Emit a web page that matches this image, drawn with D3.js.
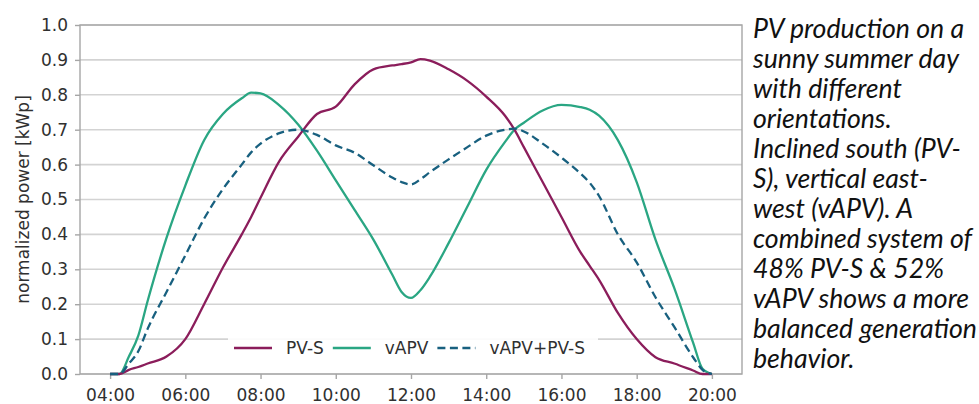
<!DOCTYPE html>
<html>
<head>
<meta charset="utf-8">
<script src="https://cdn.jsdelivr.net/npm/d3@7"></script>
<style>
  html, body { margin: 0; padding: 0; background: #ffffff; }
  svg { display: block; }
</style>
</head>
<body>
<div id="chart"></div>
<script>
// ---- data (hours of day) ----
const hours = [4.0, 4.25, 4.5, 4.75, 5.0, 5.5, 6.0, 6.5, 7.0, 7.5, 7.75, 8.0, 8.5, 9.0, 9.5, 10.0, 10.5, 11.0, 11.5, 11.75, 12.0, 12.25, 12.5, 13.0, 13.5, 14.0, 14.5, 14.75, 15.0, 15.5, 16.0, 16.5, 16.75, 17.0, 17.5, 18.0, 18.5, 19.0, 19.5, 19.75, 20.0];
const pvS = [0, 0, 0.012, 0.02, 0.03, 0.05, 0.10, 0.20, 0.305, 0.40, 0.45, 0.505, 0.61, 0.68, 0.745, 0.766, 0.83, 0.873, 0.884, 0.888, 0.893, 0.902, 0.898, 0.873, 0.84, 0.795, 0.74, 0.70, 0.65, 0.55, 0.45, 0.35, 0.31, 0.27, 0.175, 0.10, 0.048, 0.03, 0.01, 0.0, 0];
const vAPV = [0, 0, 0.05, 0.11, 0.21, 0.39, 0.54, 0.67, 0.745, 0.79, 0.806, 0.804, 0.77, 0.715, 0.64, 0.555, 0.47, 0.385, 0.285, 0.235, 0.218, 0.24, 0.278, 0.375, 0.48, 0.585, 0.665, 0.70, 0.72, 0.755, 0.771, 0.765, 0.757, 0.74, 0.67, 0.55, 0.385, 0.246, 0.09, 0.015, 0];
const combined = [0, 0, 0.03, 0.065, 0.13, 0.235, 0.34, 0.445, 0.53, 0.60, 0.635, 0.66, 0.69, 0.70, 0.685, 0.655, 0.634, 0.598, 0.563, 0.55, 0.543, 0.558, 0.578, 0.615, 0.65, 0.683, 0.70, 0.703, 0.695, 0.66, 0.62, 0.575, 0.548, 0.51, 0.40, 0.32, 0.22, 0.135, 0.048, 0.012, 0];

const seriesNames = ["PV-S", "vAPV", "vAPV+PV-S"];
const seriesColors = ["#8b1d5b", "#2aa683", "#18607f"];
const seriesDashes = [null, null, "8,4.5"];

const xTicks = [4, 6, 8, 10, 12, 14, 16, 18, 20];
const xTickLabels = ["04:00", "06:00", "08:00", "10:00", "12:00", "14:00", "16:00", "18:00", "20:00"];
const yTicks = [0, 0.1, 0.2, 0.3, 0.4, 0.5, 0.6, 0.7, 0.8, 0.9, 1.0];
const yLabel = "normalized power [kWp]";

const noteLines = [
  "PV production on a",
  "sunny summer day",
  "with different",
  "orientations.",
  "Inclined south (PV-",
  "S), vertical east-",
  "west (vAPV). A",
  "combined system of",
  "48% PV-S & 52%",
  "vAPV shows a more",
  "balanced generation",
  "behavior."
];

// ---- layout ----
const W = 979, H = 404;
const plot = { left: 80, right: 742, top: 25, bottom: 374 };
const font = "'DejaVu Sans', sans-serif";

const svg = d3.select("#chart").append("svg")
  .attr("width", W).attr("height", H);

const x = d3.scaleLinear().domain([3.2, 20.8]).range([plot.left, plot.right]);
const y = d3.scaleLinear().domain([0, 1]).range([plot.bottom, plot.top]);

// grid
svg.append("g").selectAll("line").data(yTicks).join("line")
  .attr("x1", plot.left).attr("x2", plot.right)
  .attr("y1", d => y(d)).attr("y2", d => y(d))
  .attr("stroke", "#d3d3d3").attr("stroke-width", 1.6);

// frame
svg.append("rect")
  .attr("x", plot.left).attr("y", plot.top)
  .attr("width", plot.right - plot.left).attr("height", plot.bottom - plot.top)
  .attr("fill", "none").attr("stroke", "#a6a6a6").attr("stroke-width", 1.4);

// axes
const xAxis = d3.axisBottom(x).tickValues(xTicks)
  .tickFormat((d, i) => xTickLabels[i]).tickSize(5).tickPadding(10).tickSizeOuter(0);
const gx = svg.append("g").attr("transform", `translate(0,${plot.bottom})`).call(xAxis);
gx.select(".domain").remove();
gx.selectAll("line").attr("stroke", "#a6a6a6").attr("stroke-width", 1.4);
gx.selectAll("text").attr("font-family", font).attr("font-size", 17).attr("fill", "#303030");

const yAxis = d3.axisLeft(y).tickValues(yTicks).tickFormat(d3.format(".1f"))
  .tickSize(5).tickPadding(7).tickSizeOuter(0);
const gy = svg.append("g").attr("transform", `translate(${plot.left},0)`).call(yAxis);
gy.select(".domain").remove();
gy.selectAll("line").attr("stroke", "#a6a6a6").attr("stroke-width", 1.4);
gy.selectAll("text").attr("font-family", font).attr("font-size", 17).attr("fill", "#303030");

svg.append("text")
  .attr("transform", `translate(23,${(plot.top + plot.bottom) / 2}) rotate(-90)`)
  .attr("text-anchor", "middle").attr("dominant-baseline", "central")
  .attr("font-family", font).attr("font-size", 17).attr("fill", "#303030")
  .text(yLabel);

// legend background
svg.append("rect")
  .attr("x", 228).attr("y", 331).attr("width", 370).attr("height", 38)
  .attr("fill", "#ffffff").attr("fill-opacity", 0.9);

// lines
const seriesData = [pvS, vAPV, combined];
const line = d3.line().curve(d3.curveMonotoneX).x(d => x(d[0])).y(d => y(d[1]));
svg.append("clipPath").attr("id", "clip").append("rect")
  .attr("x", plot.left).attr("y", plot.top - 2)
  .attr("width", plot.right - plot.left).attr("height", plot.bottom - plot.top + 4);

const gl = svg.append("g").attr("clip-path", "url(#clip)");
[1, 0, 2].forEach(i => {
  gl.append("path")
    .datum(hours.map((h, k) => [h, seriesData[i][k]]))
    .attr("d", line)
    .attr("fill", "none")
    .attr("stroke", seriesColors[i])
    .attr("stroke-width", 2.3)
    .attr("stroke-linejoin", "round")
    .attr("stroke-dasharray", seriesDashes[i]);
});

// legend
const legY = 348;
let lx = 234;
const lg = svg.append("g");
seriesNames.forEach((name, i) => {
  lg.append("line")
    .attr("x1", lx).attr("x2", lx + 38)
    .attr("y1", legY).attr("y2", legY)
    .attr("stroke", seriesColors[i]).attr("stroke-width", 2.3)
    .attr("stroke-dasharray", seriesDashes[i]);
  const t = lg.append("text")
    .attr("x", lx + 52).attr("y", legY)
    .attr("dominant-baseline", "central")
    .attr("font-family", font).attr("font-size", 17).attr("fill", "#303030")
    .text(name);
  lx = lx + 52 + t.node().getComputedTextLength() + 9;
});

// note text on the right
const noteFont = "Lato, 'Open Sans', sans-serif";
const ng = svg.append("g");
const probe = ng.append("text").attr("font-family", noteFont).attr("font-style", "italic")
  .attr("font-size", 22).text("balanced generation");
const w22 = probe.node().getComputedTextLength();
probe.remove();
const noteSize = 22 * 224 / w22;
noteLines.forEach((s, i) => {
  ng.append("text")
    .attr("x", 753).attr("y", 38 + i * 30)
    .attr("font-family", noteFont).attr("font-style", "italic")
    .attr("font-size", noteSize).attr("fill", "#111111")
    .text(s);
});
</script>
</body>
</html>
